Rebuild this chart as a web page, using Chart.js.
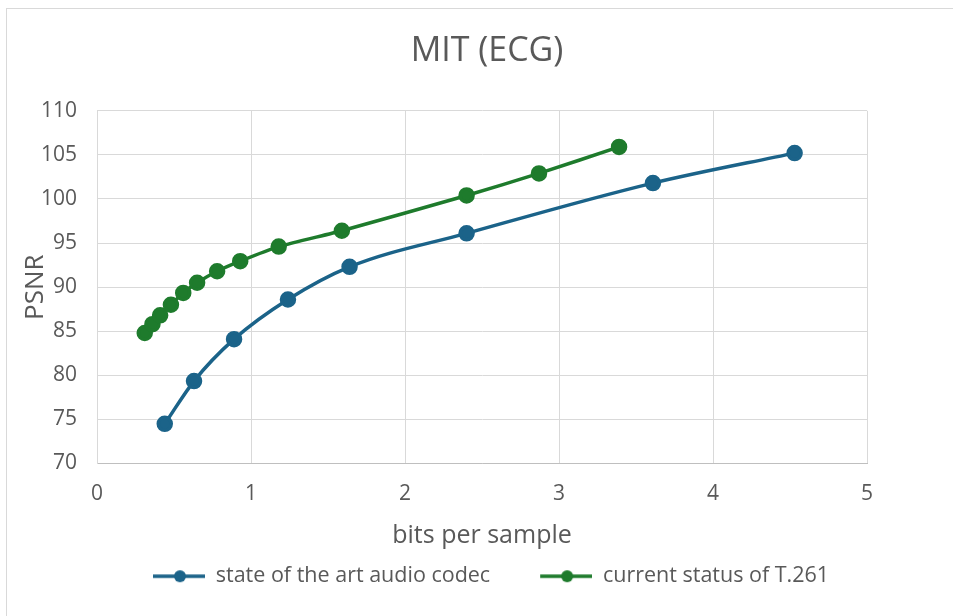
<!DOCTYPE html>
<html>
<head>
<meta charset="utf-8">
<script src="https://cdn.jsdelivr.net/npm/chart.js@4"></script>
<style>
  html, body { margin: 0; padding: 0; background: #fff; }
  #frame { position: absolute; left: 6px; top: 8px; width: 1000px; height: 700px; border: 1px solid #d9d9d9; box-sizing: border-box; }
  #wrap { position: absolute; left: 0; top: 0; width: 953px; height: 616px; }
</style>
</head>
<body>
<div id="frame"></div>
<div id="wrap"><canvas id="chart"></canvas></div>
<script>
document.addEventListener("DOMContentLoaded", () => {
    const codecBits = [0.44, 0.63, 0.89, 1.24, 1.64, 2.40, 3.61, 4.53];
    const codecPsnr = [74.5, 79.35, 84.1, 88.6, 92.3, 96.1, 101.8, 105.2];
    const t261Bits = [0.31, 0.36, 0.41, 0.48, 0.56, 0.65, 0.78, 0.93, 1.18, 1.59, 2.40, 2.87, 3.39];
    const t261Psnr = [84.8, 85.8, 86.8, 88.0, 89.35, 90.5, 91.8, 92.95, 94.6, 96.4, 100.4, 102.9, 105.9];
    const seriesNames = ["state of the art audio codec", "current status of T.261"];
    const seriesColors = ["#1b6389", "#1e7b2c"];

    const textColor = "#595959";
    const fontFamily = "'Open Sans', 'Noto Sans', sans-serif";
    const legendGap = 40; // blank room in front of each legend marker
    const legendStartX = 113;
    const titleCenterX = 487;

    // legend marker: short line with a dot, like the office style
    function legendIcon(color) {
        const c = document.createElement("canvas");
        c.width = legendGap + 52;
        c.height = 14;
        const ctx = c.getContext("2d");
        ctx.strokeStyle = color;
        ctx.lineWidth = 3.5;
        ctx.beginPath();
        ctx.moveTo(legendGap, 7);
        ctx.lineTo(legendGap + 52, 7);
        ctx.stroke();
        ctx.fillStyle = color;
        ctx.beginPath();
        ctx.arc(legendGap + 27, 7, 6, 0, Math.PI * 2);
        ctx.fill();
        return c;
    }

    // move legend row and title so they sit like the original
    const blockPlacer = {
        id: "blockPlacer",
        afterLayout(chart) {
            const lg = chart.legend;
            if (lg && lg.lineWidths) {
                const pad = lg.options.labels.padding;
                const start = (lg.left + pad + lg.right - lg.lineWidths[0]) / 2;
                const dx = legendStartX - start;
                lg.left += dx;
                lg.right += dx;
            }
            const tb = chart.titleBlock;
            if (tb) {
                const dx = titleCenterX - (tb.left + tb.right) / 2;
                tb.left += dx;
                tb.right += dx;
            }
        },
    };

    const toPoints = (xs, ys) => xs.map((x, i) => ({ x, y: ys[i] }));

    new Chart(document.getElementById("chart"), {
        type: "line",
        data: {
            datasets: [
                {
                    label: seriesNames[0],
                    data: toPoints(codecBits, codecPsnr),
                    borderColor: seriesColors[0],
                    backgroundColor: seriesColors[0],
                    borderWidth: 3.5,
                    pointRadius: 6.5,
                    pointHoverRadius: 6.5,
                    cubicInterpolationMode: "monotone",
                    fill: false,
                },
                {
                    label: seriesNames[1],
                    data: toPoints(t261Bits, t261Psnr),
                    borderColor: seriesColors[1],
                    backgroundColor: seriesColors[1],
                    borderWidth: 3.5,
                    pointRadius: 6.5,
                    pointHoverRadius: 6.5,
                    tension: 0.2,
                    fill: false,
                },
            ],
        },
        plugins: [blockPlacer],
        options: {
            responsive: true,
            maintainAspectRatio: false,
            animation: false,
            layout: { padding: { left: 20, right: 86, top: 0, bottom: 19 } },
            plugins: {
                title: {
                    display: true,
                    text: "MIT (ECG)",
                    color: textColor,
                    font: { family: fontFamily, size: 34, weight: "normal" },
                    padding: { top: 31, bottom: 39 },
                },
                legend: {
                    position: "bottom",
                    labels: {
                        color: textColor,
                        font: { family: fontFamily, size: 21.5 },
                        usePointStyle: true,
                        pointStyleWidth: legendGap + 52,
                        padding: 10,
                        generateLabels: (chart) =>
                            chart.data.datasets.map((ds, i) => ({
                                text: ds.label,
                                fontColor: textColor,
                                pointStyle: legendIcon(seriesColors[i]),
                                datasetIndex: i,
                                lineWidth: 0,
                            })),
                    },
                },
                tooltip: { enabled: false },
            },
            scales: {
                x: {
                    type: "linear",
                    min: 0,
                    max: 5,
                    afterFit: (scale) => { scale.height = 92; },
                    ticks: { stepSize: 1, color: textColor, padding: 18, font: { family: fontFamily, size: 21 } },
                    grid: { color: "#d9d9d9", drawTicks: false },
                    border: { color: "#bfbfbf" },
                    title: {
                        display: true,
                        text: "bits per sample",
                        color: textColor,
                        font: { family: fontFamily, size: 25 },
                        padding: { top: 4, bottom: 5 },
                    },
                },
                y: {
                    min: 70,
                    max: 110,
                    afterFit: (scale) => { scale.width = 77; },
                    ticks: { stepSize: 5, color: textColor, padding: 20, font: { family: fontFamily, size: 21 } },
                    grid: { color: "#d9d9d9", drawTicks: false },
                    border: { color: "#d9d9d9" },
                    title: {
                        display: true,
                        text: "PSNR",
                        color: textColor,
                        font: { family: fontFamily, size: 26 },
                        padding: { top: 0, bottom: 0 },
                    },
                },
            },
        },
    });
});
</script>
</body>
</html>
